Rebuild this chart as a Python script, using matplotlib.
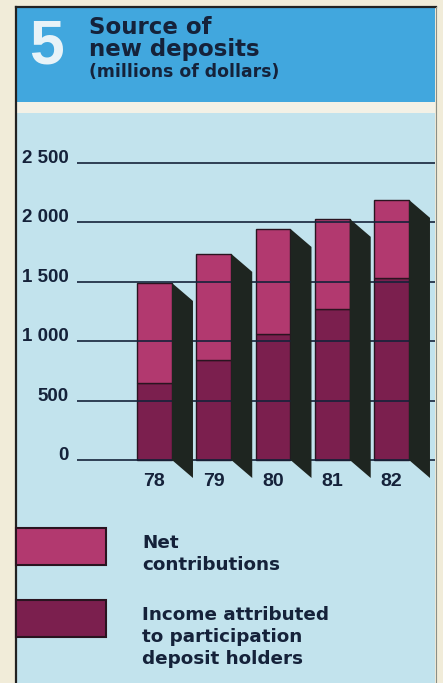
import matplotlib
matplotlib.use("Agg")
import matplotlib.pyplot as plt
from matplotlib.patches import Rectangle, Polygon
from matplotlib.lines import Line2D

# ---- data (millions of dollars) ----
years = ["78", "79", "80", "81", "82"]
income_attributed = [645, 840, 1060, 1270, 1530]
net_contributions = [845, 895, 885, 760, 660]
y_ticks = [0, 500, 1000, 1500, 2000, 2500]
y_tick_labels = ["0", "500", "1 000", "1 500", "2 000", "2 500"]

# ---- style ----
W, H = 443, 683
CREAM = "#f1ecd9"
HEADER_BLUE = "#41a7de"
PANEL_BLUE = "#c2e3ed"
STRIP = "#f3f1e6"
NAVY = "#15223a"
NET_COLOR = "#b2396f"
INCOME_COLOR = "#7b1f4e"
SHADOW = "#1e2520"
EDGE = "#2a1420"
HEAVY = "DejaVu Sans"
HELV = "Liberation Sans"

fig = plt.figure(figsize=(W / 100, H / 100), dpi=100, facecolor=CREAM)


def fx(x):
    return x / W


def fy(y):
    return 1 - y / H


# panel backgrounds (kept beneath the chart axes)
fig.patches.append(Rectangle((fx(16), fy(102)), fx(419), 95 / H, transform=fig.transFigure,
                             facecolor=HEADER_BLUE, edgecolor="none", zorder=-3))
fig.patches.append(Rectangle((fx(16), fy(113)), fx(419), 11 / H, transform=fig.transFigure,
                             facecolor=STRIP, edgecolor="none", zorder=-3))
fig.patches.append(Rectangle((fx(16), 0), fx(419), 570 / H, transform=fig.transFigure,
                             facecolor=PANEL_BLUE, edgecolor="none", zorder=-3))
# frame lines
fig.lines.append(Line2D([fx(16), fx(16)], [0, fy(7)], transform=fig.transFigure, color="#222222", lw=1.6,
                        zorder=-2))
fig.lines.append(Line2D([fx(16), fx(436)], [fy(7), fy(7)], transform=fig.transFigure, color="#222222", lw=1.6,
                        zorder=-2))
fig.lines.append(Line2D([fx(436), fx(436)], [0, fy(7)], transform=fig.transFigure, color="#8a8f86", lw=0.8,
                        zorder=-2))

# header texts
fig.text(fx(29), fy(63), "5", fontsize=45, fontweight="bold", family=HELV, color="#e8f3f8", va="baseline")
fig.text(fx(89), fy(34), "Source of", fontsize=16.5, fontweight="bold", family=HEAVY, color=NAVY, va="baseline")
fig.text(fx(89), fy(56), "new deposits", fontsize=16.5, fontweight="bold", family=HEAVY, color=NAVY, va="baseline")
fig.text(fx(89), fy(77), "(millions of dollars)", fontsize=12.4, fontweight="bold", family=HEAVY, color=NAVY,
         va="baseline")

# ---- chart axes ----
PX_PER_UNIT_X = 59.25
PX_PER_VAL = 297 / 2500
X0_PX = 154.5     # centre of first bar
ZERO_PX = 460     # baseline position
ax_left, ax_right, ax_top, ax_bottom = 77, 435, 113, 683
ax = fig.add_axes([fx(ax_left), 0, fx(ax_right - ax_left), (ax_bottom - ax_top) / H])
ax.set_zorder(1)
ax.set_facecolor("none")
ax.set_xlim((ax_left - X0_PX) / PX_PER_UNIT_X, (ax_right - X0_PX) / PX_PER_UNIT_X)
ax.set_ylim((ZERO_PX - ax_bottom) / PX_PER_VAL, (ZERO_PX - ax_top) / PX_PER_VAL)

x = list(range(len(years)))
bar_w = 0.59
dx = 21 / PX_PER_UNIT_X
dy = 18 / PX_PER_VAL

# extruded dark side of each column
for i in x:
    total = income_attributed[i] + net_contributions[i]
    xr = i + bar_w / 2
    ax.add_patch(Polygon([(xr, total), (xr + dx, total - dy), (xr + dx, -dy), (xr, 0)],
                         closed=True, facecolor=SHADOW, edgecolor="none", zorder=4))

ax.bar(x, income_attributed, width=bar_w, color=INCOME_COLOR, edgecolor=EDGE, linewidth=1.0, zorder=2)
ax.bar(x, net_contributions, bottom=income_attributed, width=bar_w, color=NET_COLOR, edgecolor=EDGE,
       linewidth=1.0, zorder=2)

# gridlines running through the bars
for v in y_ticks:
    ax.axhline(v, color=NAVY, lw=1.4, zorder=3, alpha=0.85)

ax.set_yticks(y_ticks)
ax.set_yticklabels(y_tick_labels, fontsize=13.5, fontweight="bold", family=HELV, color=NAVY)
for t in ax.get_yticklabels():
    t.set_verticalalignment("baseline")
ax.tick_params(axis="y", length=0, pad=6)

ax.spines["bottom"].set_position(("data", 0))
ax.set_xticks(x)
ax.set_xticklabels(years, fontsize=14, fontweight="bold", family=HELV, color=NAVY)
ax.tick_params(axis="x", length=0, pad=9)
for s in ax.spines.values():
    s.set_visible(False)

# ---- legend ----
legend_items = [
    (528, NET_COLOR, ["Net", "contributions"], 548),
    (600, INCOME_COLOR, ["Income attributed", "to participation", "deposit holders"], 620),
]
for top, col, lines, base in legend_items:
    fig.patches.append(Rectangle((fx(16), fy(top + 37)), fx(90), 37 / H, transform=fig.transFigure,
                                 facecolor=col, edgecolor=EDGE, linewidth=1.5, zorder=2))
    for k, line in enumerate(lines):
        fig.text(fx(142), fy(base + 22 * k), line, fontsize=13.2, fontweight="bold", family=HEAVY,
                 color=NAVY, va="baseline")

fig.savefig("out.png", dpi=100, facecolor=CREAM)
